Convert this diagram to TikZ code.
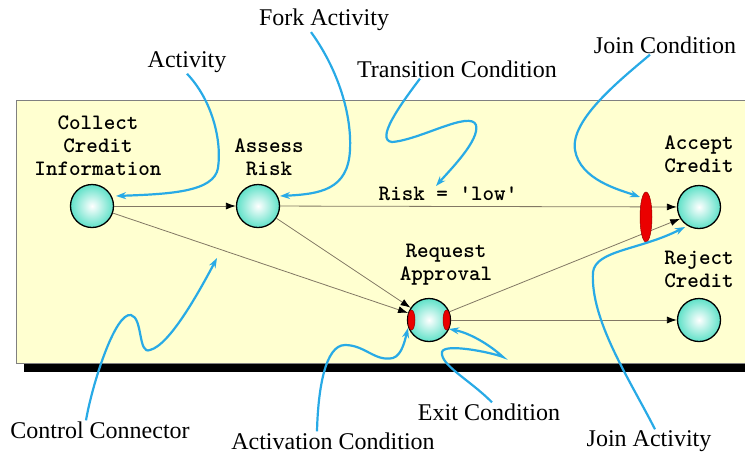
\documentclass[tikz,border=0pt]{standalone}
\usepackage{fontspec}
\setmainfont{Liberation Serif}
\usetikzlibrary{arrows.meta,shapes.geometric}

\definecolor{panelyellow}{RGB}{255,255,208}
\definecolor{notecyan}{RGB}{40,170,230}
\definecolor{actfill}{RGB}{95,225,200}
\definecolor{linkgray}{RGB}{130,120,100}
\definecolor{condred}{RGB}{235,0,0}

\begin{document}
\begin{tikzpicture}[x=1pt,y=-1pt,
    activity/.style={circle, draw=black, line width=1.3pt, minimum size=43pt, inner sep=0pt,
        inner color=white, outer color=actfill},
    actlabel/.style={font=\fontsize{22}{23}\selectfont\ttfamily\bfseries, align=center},
    link/.style={draw=linkgray, line width=0.8pt, -{Latex[length=10pt,width=7pt,color=black]}},
    note/.style={font=\fontsize{24}{26}\selectfont, inner sep=1pt},
    pointer/.style={draw=notecyan, line width=2.2pt, -{Stealth[length=10pt,width=7pt]}},
    condmark/.style={fill=condred, draw=red!60!black, line width=0.5pt}
]
    \useasboundingbox (0,0) rectangle (745,459);
    \pgfmathsetmacro{\shadowdx}{8}  % units of points
    \pgfmathsetmacro{\shadowdy}{9}  % units of points

    % the process panel with its shadow
    \fill[black] (16+\shadowdx,100+\shadowdy) rectangle (760,363+\shadowdy);
    \filldraw[fill=panelyellow, draw=gray, line width=1pt] (16,100) rectangle (760,363);

    % activities
    \node[activity] (collect) at (92,206) {};
    \node[activity] (assess)  at (258,206) {};
    \node[activity] (request) at (429,320) {};
    \node[activity] (accept)  at (699,207) {};
    \node[activity] (reject)  at (699,320) {};

    \node[actlabel] (collectlbl) at (98,146) {Collect\\Credit\\Information};
    \node[actlabel] (assesslbl)  at (269,157) {Assess\\Risk};
    \node[actlabel] (requestlbl) at (446,265) {Request\\Approval};
    \node[actlabel] (acceptlbl)  at (699,154) {Accept\\Credit};
    \node[actlabel] (rejectlbl)  at (699,269) {Reject\\Credit};
    \node[actlabel] (risklbl)    at (448,194) {Risk = 'low'};

    % control connectors
    \draw[link] (collect) -- (assess);
    \draw[link] (assess) -- (accept);
    \draw[link] (collect) -- (request);
    \draw[link] (assess) -- (request);
    \draw[link] (request) -- (accept.212);
    \draw[link] (request) -- (reject);

    % join condition and activation / exit conditions
    \node[condmark, ellipse, minimum width=12pt, minimum height=50pt, inner sep=0pt] (joincond) at (646,217) {};
    \filldraw[condmark] (411.5,320) ellipse (3.5 and 10);
    \filldraw[condmark] (446.5,320) ellipse (3.5 and 10);

    % notes
    \node[note] (activitynote)   at (187,62)  {Activity};
    \node[note] (forknote)       at (324,20)  {Fork Activity};
    \node[note] (transnote)      at (457,69)  {Transition Condition};
    \node[note] (joincondnote)   at (665,45)  {Join Condition};
    \node[note] (connectornote)  at (100,430) {Control Connector};
    \node[note] (activationnote) at (333,441) {Activation Condition};
    \node[note] (exitnote)       at (489,412) {Exit Condition};
    \node[note] (joinactnote)    at (649,441) {Join Activity};

    \coordinate (activitytip)   at (116,196);
    \coordinate (forktip)       at (280,196);
    \coordinate (transtip)      at (436,186);
    \coordinate (joincondtip)   at (640,197);
    \coordinate (connectortip)  at (217,258);
    \coordinate (activationtip) at (408,328);
    \coordinate (exittip)       at (449,329);
    \coordinate (joinacttip)    at (685,227);

    % Syntax: from the note down to the thing it names
    \draw[pointer] (activitynote.south) .. controls (212,100) and (222,140) .. (218,168)
        .. controls (214,192) and (170,194) .. (activitytip);
    \draw[pointer] (forknote.south) ++(-13,0) .. controls (335,65) and (352,110) .. (350,150)
        .. controls (348,190) and (320,194) .. (forktip);
    \draw[pointer] (transnote.south) ++(-37,0) .. controls (400,105) and (375,140) .. (392,142)
        .. controls (420,140) and (470,110) .. (476,125)
        .. controls (480,140) and (450,170) .. (transtip);
    \draw[pointer] (joincondnote.south) ++(-15,0) .. controls (620,80) and (570,120) .. (575,150)
        .. controls (580,180) and (620,190) .. (joincondtip);
    \draw[pointer] (connectornote.north) ++(-14,0) .. controls (92,385) and (115,312) .. (131,315)
        .. controls (143,318) and (138,355) .. (150,350)
        .. controls (170,345) and (200,290) .. (connectortip);
    \draw[pointer] (activationnote.north) ++(-16,0) .. controls (318,390) and (325,345) .. (345,345)
        .. controls (365,345) and (375,362) .. (393,358)
        .. controls (402,355) and (405,340) .. (activationtip);
    \draw[pointer] (exitnote.north) ++(3,0) .. controls (470,380) and (440,365) .. (442,352)
        .. controls (444,343) and (490,352) .. (503,357)
        .. controls (490,345) and (470,333) .. (exittip);
    \draw[pointer] (joinactnote.north) ++(6,0) .. controls (630,380) and (590,320) .. (593,272)
        .. controls (596,250) and (640,250) .. (joinacttip);
\end{tikzpicture}
\end{document}
